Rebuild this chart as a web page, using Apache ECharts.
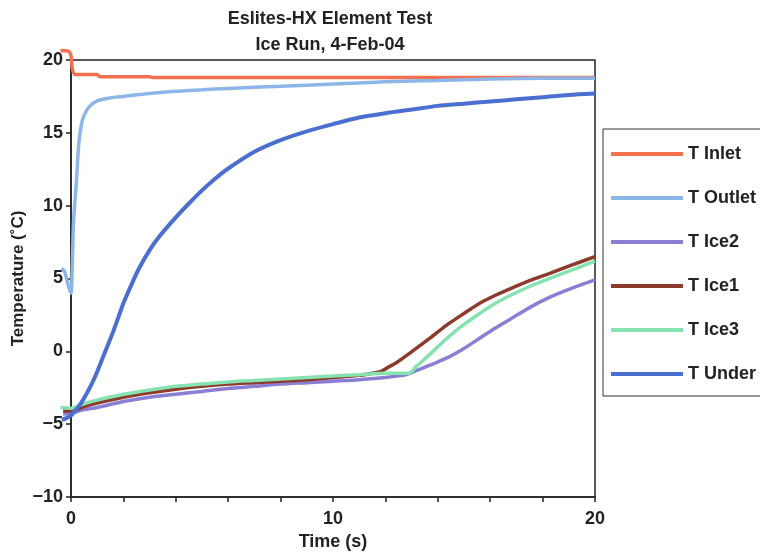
<!DOCTYPE html>
<html>
<head>
<meta charset="utf-8">
<script src="https://cdn.jsdelivr.net/npm/echarts@6/dist/echarts.min.js"></script>
<style>
html,body{margin:0;padding:0;background:#fff;}
#chart{width:760px;height:554px;}
</style>
</head>
<body>
<div id="chart"></div>
<script>
const titleLines = ['Eslites-HX Element Test', 'Ice Run, 4-Feb-04'];
const seriesNames = ['T Inlet', 'T Outlet', 'T Ice2', 'T Ice1', 'T Ice3', 'T Under'];
const xTickLabels = [0, 10, 20];

const tInlet = [-0.4, -0.1, 0, 0.05, 0.15, 1.0, 1.1, 3, 3.1, 8, 14, 20];
const vInlet = [20.65, 20.6, 20.3, 19.4, 19.0, 19.0, 18.85, 18.85, 18.8, 18.8, 18.8, 18.8];

const tOutlet = [-0.35, -0.25, -0.1, 0, 0.05, 0.1, 0.2, 0.3, 0.4, 0.5, 0.7, 1, 1.5, 2, 3, 4, 5, 6, 8, 10, 12, 14, 16, 18, 20];
const vOutlet = [5.7, 5.5, 4.5, 4.0, 6.0, 9.0, 11.5, 14.3, 15.6, 16.2, 16.8, 17.2, 17.4, 17.5, 17.7, 17.85, 17.95, 18.05, 18.2, 18.35, 18.5, 18.6, 18.7, 18.75, 18.75];

const tIce2 = [-0.3, 0, 0.5, 1, 2, 3, 4, 5, 6, 7, 8, 9, 10, 11, 12, 12.8, 13.2, 13.7, 14.35, 15, 15.6, 16.2, 16.9, 17.5, 18.2, 19, 20];
const vIce2 = [-4.3, -4.25, -4.0, -3.85, -3.45, -3.15, -2.95, -2.75, -2.55, -2.4, -2.25, -2.15, -2.05, -1.95, -1.8, -1.6, -1.3, -0.95, -0.45, 0.2, 0.9, 1.6, 2.35, 3.0, 3.65, 4.25, 4.9];

const tIce1 = [-0.3, 0, 0.5, 1, 2, 3, 4, 5, 6, 7, 8, 9, 10, 11, 11.5, 11.8, 12.1, 12.4, 13.1, 13.7, 14.3, 15, 15.6, 16.2, 16.9, 17.5, 18.2, 19, 20];
const vIce1 = [-4.1, -4.1, -3.8, -3.55, -3.15, -2.85, -2.6, -2.4, -2.25, -2.15, -2.05, -1.95, -1.8, -1.65, -1.5, -1.4, -1.1, -0.8, 0.1, 0.9, 1.75, 2.6, 3.3, 3.85, 4.4, 4.85, 5.3, 5.85, 6.5];

const tIce3 = [-0.4, 0, 0.5, 1, 2, 3, 4, 5, 6, 7, 8, 9, 10, 11, 12, 12.9, 13.2, 13.7, 14.35, 15, 15.6, 16.2, 16.9, 17.5, 18.2, 19, 20];
const vIce3 = [-3.85, -3.9, -3.6, -3.35, -2.95, -2.65, -2.4, -2.25, -2.1, -2.0, -1.9, -1.8, -1.7, -1.6, -1.5, -1.5, -1.0, -0.2, 0.9, 1.85, 2.6, 3.3, 3.95, 4.45, 4.95, 5.5, 6.2];

const tUnder = [-0.35, -0.2, 0, 0.2, 0.4, 0.6, 0.8, 1.0, 1.2, 1.4, 1.6, 1.8, 2.0, 2.3, 2.6, 3.0, 3.4, 4.0, 4.5, 5.0, 5.5, 6.0, 7.0, 8.0, 9.0, 10, 11, 12, 13, 14, 15, 16, 17, 18, 19, 20];
const vUnder = [-4.7, -4.6, -4.4, -4.0, -3.5, -2.9, -2.2, -1.4, -0.5, 0.4, 1.3, 2.3, 3.3, 4.55, 5.7, 6.95, 7.95, 9.2, 10.15, 11.05, 11.85, 12.55, 13.7, 14.5, 15.1, 15.6, 16.05, 16.35, 16.6, 16.85, 17.0, 17.15, 17.3, 17.45, 17.6, 17.7];

const colors = ['#f4704f', '#8db6e8', '#8a7fd4', '#8c3a2b', '#86e2b0', '#4b6fd1'];
const widths = [3.5, 3.5, 3.5, 3.5, 3.5, 4];

const FONT = '"Liberation Sans", Arial, sans-serif';

// plot geometry (pixels) — visible axes grid and data grid (data grid starts a bit earlier so pre-zero samples show)
const PLOT_LEFT = 71, PLOT_RIGHT_GAP = 165, PLOT_TOP = 60, PLOT_BOTTOM_GAP = 57;
const X_MIN = 0, X_MAX = 20, X_PRE = -0.45;
const PX_PER_UNIT = (760 - PLOT_RIGHT_GAP - PLOT_LEFT) / (X_MAX - X_MIN);

function pairs(t, v) { return t.map((x, i) => [x, v[i]]); }
const allData = [
  pairs(tInlet, vInlet), pairs(tOutlet, vOutlet), pairs(tIce2, vIce2),
  pairs(tIce1, vIce1), pairs(tIce3, vIce3), pairs(tUnder, vUnder)
];

const chart = echarts.init(document.getElementById('chart'), null, {renderer: 'canvas'});
chart.setOption({
  animation: false,
  backgroundColor: '#fff',
  title: {
    text: titleLines.join('\n'),
    left: 325, top: 1, textAlign: 'center',
    textStyle: {fontFamily: FONT, fontSize: 18, fontWeight: 'bold', color: '#222', lineHeight: 26}
  },
  legend: {
    orient: 'vertical',
    left: 603, top: 129,
    data: seriesNames,
    icon: 'rect',
    itemWidth: 72, itemHeight: 4,
    itemGap: 26,
    padding: [16, 30, 13, 8],
    borderColor: '#333', borderWidth: 1,
    backgroundColor: '#fff',
    textStyle: {fontFamily: FONT, fontSize: 18, fontWeight: 'bold', color: '#222'}
  },
  grid: [{
    left: PLOT_LEFT, right: PLOT_RIGHT_GAP, top: PLOT_TOP, bottom: PLOT_BOTTOM_GAP,
    outerBoundsMode: 'none', containLabel: false,
    show: true, borderColor: '#222', borderWidth: 1.5, backgroundColor: 'transparent'
  }, {
    left: PLOT_LEFT + (X_PRE - X_MIN) * PX_PER_UNIT, right: PLOT_RIGHT_GAP, top: PLOT_TOP, bottom: PLOT_BOTTOM_GAP,
    outerBoundsMode: 'none', containLabel: false, show: false
  }],
  xAxis: [{
    gridIndex: 0,
    type: 'value', min: X_MIN, max: X_MAX, interval: 2,
    name: 'Time (s)', nameLocation: 'middle', nameGap: 36,
    nameTextStyle: {fontFamily: FONT, fontSize: 18, fontWeight: 'bold', color: '#222'},
    axisLine: {onZero: false, lineStyle: {color: '#222', width: 1.5}},
    axisTick: {show: true, length: 5, lineStyle: {color: '#222', width: 1.5}},
    axisLabel: {
      fontFamily: FONT, fontSize: 18, fontWeight: 'bold', color: '#222', margin: 13,
      formatter: v => xTickLabels.indexOf(v) >= 0 ? String(v) : ''
    },
    splitLine: {show: false}
  }, {
    gridIndex: 1, type: 'value', min: X_PRE, max: X_MAX, show: false
  }],
  yAxis: [{
    gridIndex: 0,
    type: 'value', min: -10, max: 20, interval: 5,
    name: 'Temperature (˚C)', nameLocation: 'middle', nameGap: 44, nameMoveOverlap: false,
    nameTextStyle: {fontFamily: FONT, fontSize: 17, fontWeight: 'bold', color: '#222'},
    axisLine: {show: true, onZero: false, lineStyle: {color: '#222', width: 1.5}},
    axisTick: {show: true, length: 5, lineStyle: {color: '#222', width: 1.5}},
    axisLabel: {
      fontFamily: FONT, fontSize: 18, fontWeight: 'bold', color: '#222', margin: 8,
      formatter: v => String(v).replace('-', '\u2212')
    },
    splitLine: {show: false}
  }, {
    gridIndex: 1, type: 'value', min: -10, max: 20, show: false
  }],
  series: seriesNames.map((n, i) => ({
    name: n, type: 'line', data: allData[i],
    xAxisIndex: 1, yAxisIndex: 1,
    showSymbol: false, symbol: 'none', clip: false,
    smooth: 0.25,
    color: colors[i],
    lineStyle: {color: colors[i], width: widths[i]},
    z: 2 + i
  }))
});
</script>
</body>
</html>
